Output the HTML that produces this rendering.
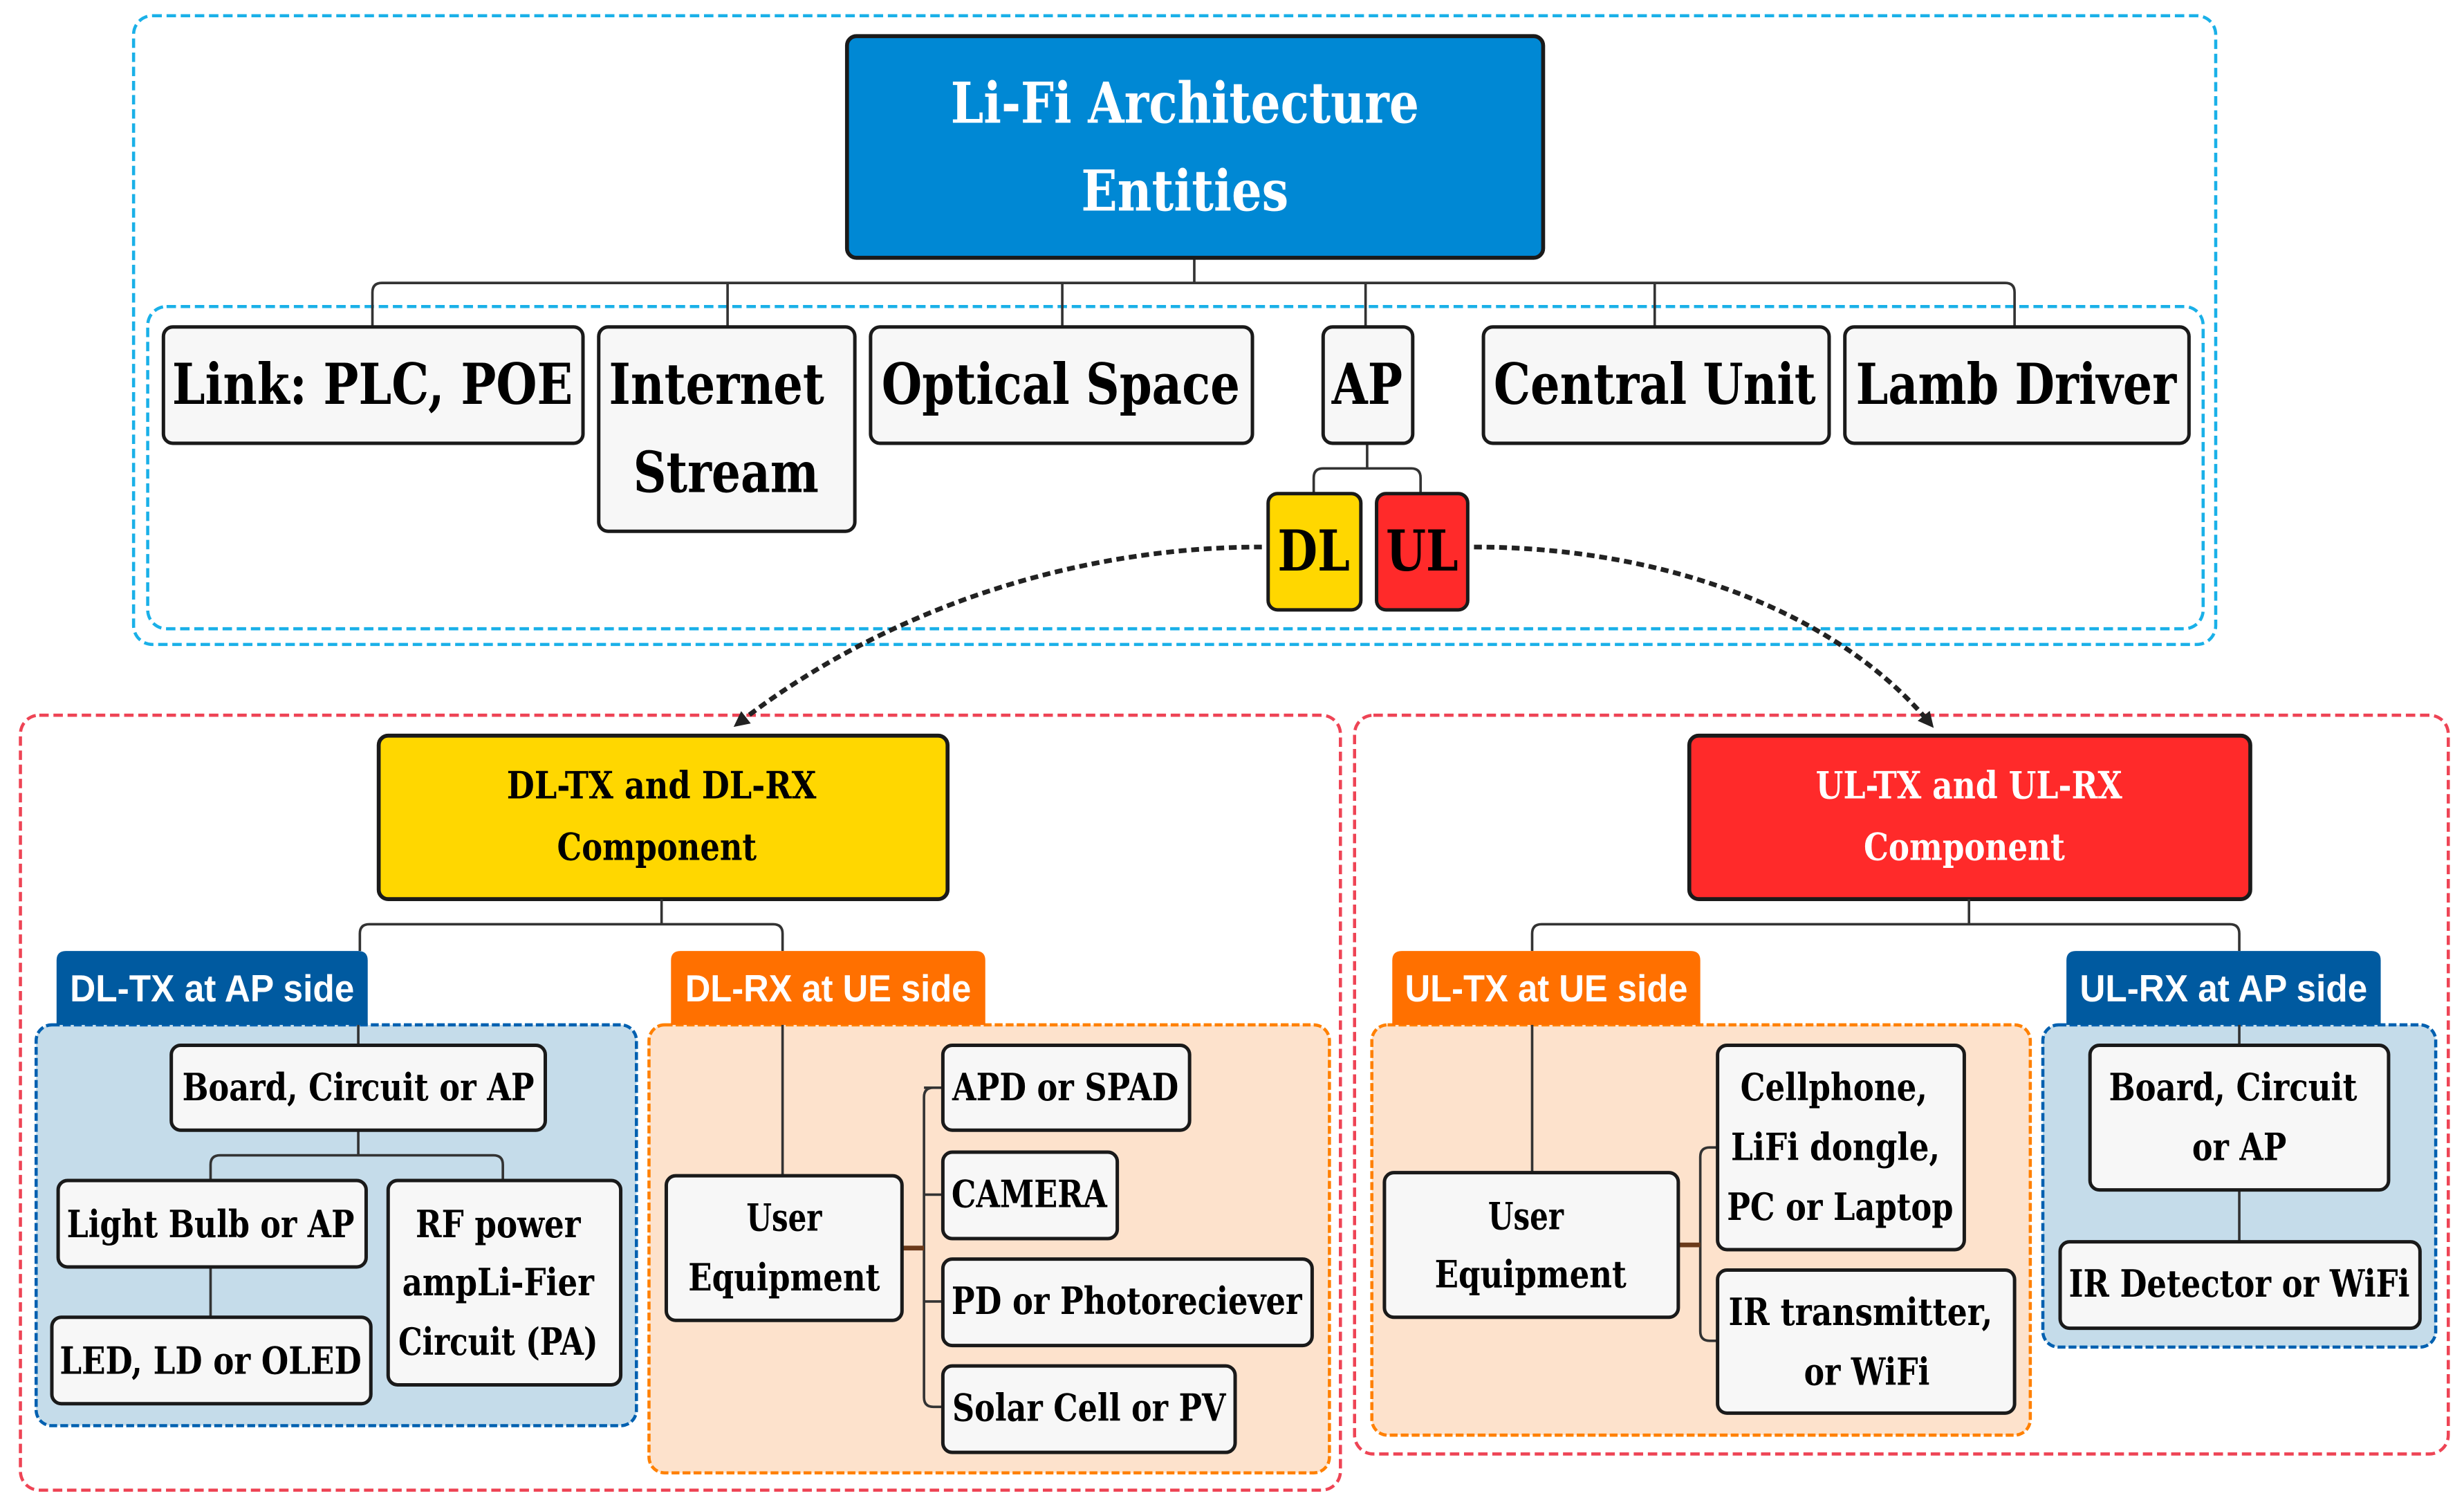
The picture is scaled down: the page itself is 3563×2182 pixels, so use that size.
<!DOCTYPE html>
<html><head><meta charset="utf-8"><style>
html,body{margin:0;padding:0;background:#fff;}
svg{display:block;}
.s{font-family:"DejaVu Serif","Liberation Serif",serif;font-weight:bold;}
.t{font-family:"Liberation Sans","DejaVu Sans",sans-serif;font-weight:bold;}
.bx{fill:#f7f7f7;stroke:#1a1a1a;stroke-width:2.2;}
.ln{fill:none;stroke:#333;stroke-width:1.6;}
</style></head><body>
<svg width="3563" height="2182" viewBox="0 0 1568 960" preserveAspectRatio="none" xmlns="http://www.w3.org/2000/svg">
<defs>
<marker id="ah" markerWidth="10" markerHeight="10" refX="6" refY="5" orient="auto" markerUnits="userSpaceOnUse">
<path d="M0,0 L10,5 L0,10 z" fill="#222"/></marker>
</defs>
<!-- top dashed containers -->
<rect x="85" y="10" width="1325" height="400" rx="12" fill="none" stroke="#1ab0e8" stroke-width="2" stroke-dasharray="6,3"/>
<rect x="94" y="195" width="1308" height="205" rx="12" fill="none" stroke="#1ab0e8" stroke-width="2" stroke-dasharray="6,3"/>
<!-- bottom red containers -->
<rect x="13" y="455" width="840" height="493" rx="12" fill="none" stroke="#ee4455" stroke-width="2" stroke-dasharray="6,3"/>
<rect x="862" y="455" width="696" height="470" rx="12" fill="none" stroke="#ee4455" stroke-width="2" stroke-dasharray="6,3"/>

<!-- top connectors -->
<path class="ln" d="M760,164 V180 M243,180 H1276 M237,208 V186 Q237,180 243,180 M1282,208 V186 Q1282,180 1276,180 M463,180 V208 M676,180 V208 M869,180 V208 M1053,180 V208"/>
<path class="ln" d="M870,282 V298 M836,314 V304 Q836,298 842,298 H898 Q904,298 904,304 V314"/>

<!-- title -->
<rect x="539" y="23" width="443" height="141" rx="6" fill="#0088d4" stroke="#1a1a1a" stroke-width="2.5"/>
<text class="s" x="754" y="78" font-size="36" fill="#fff" text-anchor="middle" textLength="298" lengthAdjust="spacingAndGlyphs">Li-Fi Architecture</text>
<text class="s" x="754" y="134" font-size="36" fill="#fff" text-anchor="middle" textLength="132" lengthAdjust="spacingAndGlyphs">Entities</text>

<!-- top row boxes -->
<rect class="bx" x="104" y="208" width="267" height="74" rx="6"/>
<text class="s" x="237" y="257" font-size="36" text-anchor="middle" textLength="255" lengthAdjust="spacingAndGlyphs">Link: PLC, POE</text>
<rect class="bx" x="381" y="208" width="163" height="130" rx="6"/>
<text class="s" x="456" y="257" font-size="36" text-anchor="middle" textLength="137" lengthAdjust="spacingAndGlyphs">Internet</text>
<text class="s" x="462" y="313" font-size="36" text-anchor="middle" textLength="118" lengthAdjust="spacingAndGlyphs">Stream</text>
<rect class="bx" x="554" y="208" width="243" height="74" rx="6"/>
<text class="s" x="675" y="257" font-size="36" text-anchor="middle" textLength="228" lengthAdjust="spacingAndGlyphs">Optical Space</text>
<rect class="bx" x="842" y="208" width="57" height="74" rx="6"/>
<text class="s" x="870" y="257" font-size="36" text-anchor="middle" textLength="45" lengthAdjust="spacingAndGlyphs">AP</text>
<rect class="bx" x="944" y="208" width="220" height="74" rx="6"/>
<text class="s" x="1053" y="257" font-size="36" text-anchor="middle" textLength="205" lengthAdjust="spacingAndGlyphs">Central Unit</text>
<rect class="bx" x="1174" y="208" width="219" height="74" rx="6"/>
<text class="s" x="1283" y="257" font-size="36" text-anchor="middle" textLength="204" lengthAdjust="spacingAndGlyphs">Lamb Driver</text>

<!-- DL UL -->
<rect x="807" y="314" width="59" height="74" rx="6" fill="#ffd700" stroke="#1a1a1a" stroke-width="2.2"/>
<text class="s" x="836" y="363" font-size="36" text-anchor="middle" textLength="46" lengthAdjust="spacingAndGlyphs">DL</text>
<rect x="876" y="314" width="58" height="74" rx="6" fill="#ff2a2a" stroke="#1a1a1a" stroke-width="2.2"/>
<text class="s" x="905" y="363" font-size="36" text-anchor="middle" textLength="46" lengthAdjust="spacingAndGlyphs">UL</text>

<!-- dashed curves -->
<path d="M803,348 C680,348 560,390 470,460" fill="none" stroke="#222" stroke-width="3" stroke-dasharray="5,3" marker-end="url(#ah)"/>
<path d="M938,348 C1060,348 1170,390 1228,460" fill="none" stroke="#222" stroke-width="3" stroke-dasharray="5,3" marker-end="url(#ah)"/>

<!-- component boxes -->
<rect x="241" y="468" width="362" height="104" rx="6" fill="#ffd700" stroke="#1a1a1a" stroke-width="2.5"/>
<text class="s" x="421" y="508" font-size="24" text-anchor="middle" textLength="197" lengthAdjust="spacingAndGlyphs">DL-TX and DL-RX</text>
<text class="s" x="418" y="547" font-size="24" text-anchor="middle" textLength="127" lengthAdjust="spacingAndGlyphs">Component</text>
<rect x="1075" y="468" width="357" height="104" rx="6" fill="#ff2a2a" stroke="#1a1a1a" stroke-width="2.5"/>
<text class="s" x="1253" y="508" font-size="24" fill="#fff" text-anchor="middle" textLength="195" lengthAdjust="spacingAndGlyphs">UL-TX and UL-RX</text>
<text class="s" x="1250" y="547" font-size="24" fill="#fff" text-anchor="middle" textLength="128" lengthAdjust="spacingAndGlyphs">Component</text>

<path class="ln" d="M421,572 V588 M229,605 V594 Q229,588 235,588 H492 Q498,588 498,594 V605"/>
<path class="ln" d="M1253,572 V588 M975,605 V594 Q975,588 981,588 H1419 Q1425,588 1425,594 V605"/>

<!-- panels -->
<rect x="23" y="652" width="382" height="255" rx="10" fill="#c5dcea" stroke="#0060b0" stroke-width="2" stroke-dasharray="5,2"/>
<rect x="413" y="652" width="433" height="285" rx="10" fill="#fde2cc" stroke="#ff8000" stroke-width="2" stroke-dasharray="5,2"/>
<rect x="873" y="652" width="419" height="261" rx="10" fill="#fde2cc" stroke="#ff8000" stroke-width="2" stroke-dasharray="5,2"/>
<rect x="1300" y="652" width="250" height="205" rx="10" fill="#c5dcea" stroke="#0060b0" stroke-width="2" stroke-dasharray="5,2"/>

<!-- tabs -->
<path d="M36,652 V611 Q36,605 42,605 H228 Q234,605 234,611 V652 Z" fill="#005aa0"/>
<text class="t" x="135" y="637" font-size="24" fill="#fff" text-anchor="middle" textLength="181" lengthAdjust="spacingAndGlyphs">DL-TX at AP side</text>
<path d="M427,652 V611 Q427,605 433,605 H621 Q627,605 627,611 V652 Z" fill="#ff7000"/>
<text class="t" x="527" y="637" font-size="24" fill="#fff" text-anchor="middle" textLength="182" lengthAdjust="spacingAndGlyphs">DL-RX at UE side</text>
<path d="M886,652 V611 Q886,605 892,605 H1076 Q1082,605 1082,611 V652 Z" fill="#ff7000"/>
<text class="t" x="984" y="637" font-size="24" fill="#fff" text-anchor="middle" textLength="180" lengthAdjust="spacingAndGlyphs">UL-TX at UE side</text>
<path d="M1315,652 V611 Q1315,605 1321,605 H1509 Q1515,605 1515,611 V652 Z" fill="#005aa0"/>
<text class="t" x="1415" y="637" font-size="24" fill="#fff" text-anchor="middle" textLength="183" lengthAdjust="spacingAndGlyphs">UL-RX at AP side</text>

<!-- DL-TX content -->
<path class="ln" d="M228,652 V665 M228,719 V735 M134,751 V741 Q134,735 140,735 H314 Q320,735 320,741 V751 M134,806 V838"/>
<rect class="bx" x="109" y="665" width="238" height="54" rx="6"/>
<text class="s" x="228" y="700" font-size="24" text-anchor="middle" textLength="224" lengthAdjust="spacingAndGlyphs">Board, Circuit or AP</text>
<rect class="bx" x="37" y="751" width="196" height="55" rx="6"/>
<text class="s" x="134" y="787" font-size="24" text-anchor="middle" textLength="183" lengthAdjust="spacingAndGlyphs">Light Bulb or AP</text>
<rect class="bx" x="247" y="751" width="148" height="130" rx="6"/>
<text class="s" x="317" y="787" font-size="24" text-anchor="middle" textLength="105" lengthAdjust="spacingAndGlyphs">RF power</text>
<text class="s" x="317" y="824" font-size="24" text-anchor="middle" textLength="122" lengthAdjust="spacingAndGlyphs">ampLi-Fier</text>
<text class="s" x="317" y="862" font-size="24" text-anchor="middle" textLength="127" lengthAdjust="spacingAndGlyphs">Circuit (PA)</text>
<rect class="bx" x="33" y="838" width="203" height="55" rx="6"/>
<text class="s" x="134" y="874" font-size="24" text-anchor="middle" textLength="192" lengthAdjust="spacingAndGlyphs">LED, LD or OLED</text>

<!-- DL-RX content -->
<path class="ln" d="M498,652 V748 M574,794 H588 M594,692 Q588,692 588,698 V889 Q588,895 594,895 H600 M588,692 H600 M588,760 H600 M588,828 H600"/>
<path d="M574,794 H588" stroke="#6b3a1a" stroke-width="3"/>
<rect class="bx" x="424" y="748" width="150" height="92" rx="6"/>
<text class="s" x="499" y="783" font-size="24" text-anchor="middle" textLength="48" lengthAdjust="spacingAndGlyphs">User</text>
<text class="s" x="499" y="821" font-size="24" text-anchor="middle" textLength="122" lengthAdjust="spacingAndGlyphs">Equipment</text>
<rect class="bx" x="600" y="665" width="157" height="54" rx="6"/>
<text class="s" x="678" y="700" font-size="24" text-anchor="middle" textLength="144" lengthAdjust="spacingAndGlyphs">APD or SPAD</text>
<rect class="bx" x="600" y="733" width="111" height="55" rx="6"/>
<text class="s" x="655" y="768" font-size="24" text-anchor="middle" textLength="99" lengthAdjust="spacingAndGlyphs">CAMERA</text>
<rect class="bx" x="600" y="801" width="235" height="55" rx="6"/>
<text class="s" x="717" y="836" font-size="24" text-anchor="middle" textLength="223" lengthAdjust="spacingAndGlyphs">PD or Photoreciever</text>
<rect class="bx" x="600" y="869" width="186" height="55" rx="6"/>
<text class="s" x="693" y="904" font-size="24" text-anchor="middle" textLength="174" lengthAdjust="spacingAndGlyphs">Solar Cell or PV</text>

<!-- UL-TX content -->
<path class="ln" d="M975,652 V746 M1068,792 H1082 M1093,730 H1088 Q1082,730 1082,736 V847 Q1082,853 1088,853 H1093"/>
<path d="M1068,792 H1082" stroke="#6b3a1a" stroke-width="3"/>
<rect class="bx" x="881" y="746" width="187" height="92" rx="6"/>
<text class="s" x="971" y="782" font-size="24" text-anchor="middle" textLength="48" lengthAdjust="spacingAndGlyphs">User</text>
<text class="s" x="974" y="819" font-size="24" text-anchor="middle" textLength="122" lengthAdjust="spacingAndGlyphs">Equipment</text>
<rect class="bx" x="1093" y="665" width="157" height="130" rx="6"/>
<text class="s" x="1167" y="700" font-size="24" text-anchor="middle" textLength="119" lengthAdjust="spacingAndGlyphs">Cellphone,</text>
<text class="s" x="1168" y="738" font-size="24" text-anchor="middle" textLength="133" lengthAdjust="spacingAndGlyphs">LiFi dongle,</text>
<text class="s" x="1171" y="776" font-size="24" text-anchor="middle" textLength="144" lengthAdjust="spacingAndGlyphs">PC or Laptop</text>
<rect class="bx" x="1093" y="808" width="189" height="91" rx="6"/>
<text class="s" x="1184" y="843" font-size="24" text-anchor="middle" textLength="168" lengthAdjust="spacingAndGlyphs">IR transmitter,</text>
<text class="s" x="1188" y="881" font-size="24" text-anchor="middle" textLength="80" lengthAdjust="spacingAndGlyphs">or WiFi</text>

<!-- UL-RX content -->
<path class="ln" d="M1425,652 V665 M1425,757 V790"/>
<rect class="bx" x="1330" y="665" width="190" height="92" rx="6"/>
<text class="s" x="1421" y="700" font-size="24" text-anchor="middle" textLength="158" lengthAdjust="spacingAndGlyphs">Board, Circuit</text>
<text class="s" x="1425" y="738" font-size="24" text-anchor="middle" textLength="60" lengthAdjust="spacingAndGlyphs">or AP</text>
<rect class="bx" x="1311" y="790" width="229" height="55" rx="6"/>
<text class="s" x="1425" y="825" font-size="24" text-anchor="middle" textLength="217" lengthAdjust="spacingAndGlyphs">IR Detector or WiFi</text>
</svg>
</body></html>
